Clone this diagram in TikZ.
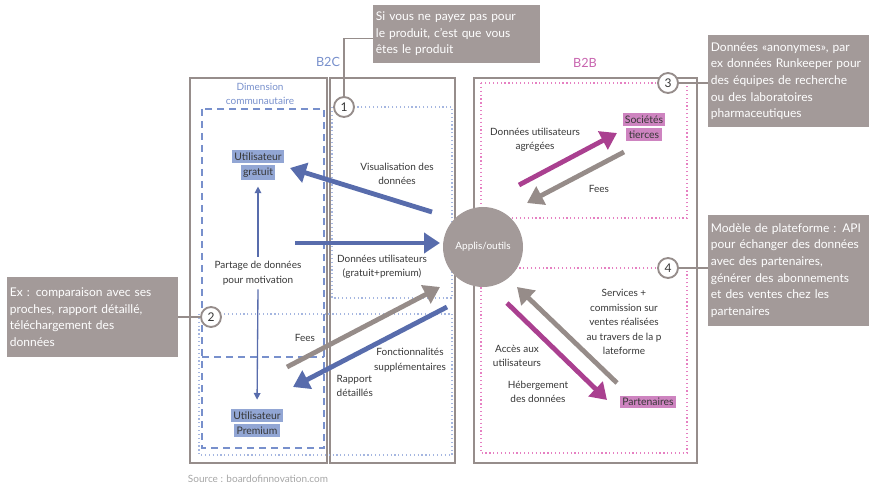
\documentclass[tikz,border=0pt]{standalone}
\usepackage{fontspec}
\setmainfont{Lato}
\usetikzlibrary{arrows.meta}

\definecolor{frameg}{RGB}{150,141,139}
\definecolor{noteg}{RGB}{163,154,153}
\definecolor{flowb}{RGB}{88,108,172}
\definecolor{flowg}{RGB}{150,140,137}
\definecolor{flowp}{RGB}{170,64,144}
\definecolor{userb}{RGB}{146,166,212}
\definecolor{partp}{RGB}{206,132,192}
\definecolor{dimb}{RGB}{120,144,204}
\definecolor{b2bp}{RGB}{200,100,175}
\definecolor{dotb}{RGB}{165,182,224}
\definecolor{dotp}{RGB}{230,128,194}
\definecolor{txt}{RGB}{55,55,55}

% highlighted label lines
\setlength{\fboxsep}{1.8pt}
\newcommand{\hlb}[1]{\colorbox{userb}{#1}}
\newcommand{\hlp}[1]{\colorbox{partp}{#1}}

\begin{document}
\begin{tikzpicture}[x=0.75pt, y=-0.75pt,
    frame/.style={draw=frameg, line width=1.3pt},
    note/.style={fill=noteg, text=white, anchor=north west, align=left,
                 inner xsep=2pt, inner ysep=2pt,
                 font=\fontsize{9}{12.5}\selectfont},
    num/.style={circle, draw=frameg, line width=1.4pt, fill=white,
                minimum size=15pt, inner sep=0pt, text=txt,
                font=\fontsize{9}{10}\selectfont},
    link/.style={draw=frameg, line width=0.8pt},
    lbl/.style={align=center, text=txt, font=\fontsize{7.5}{10.8}\selectfont},
    user/.style={align=center, text=txt, inner sep=0pt,
                 font=\fontsize{7.8}{11.2}\selectfont},
    fat/.style={line width=3.6pt, -{Triangle[length=12pt, width=15pt]}},
    thin/.style={draw=flowb, line width=1pt, -{Triangle[length=5pt, width=5pt]}}
  ]
  \useasboundingbox (0,0) rectangle (869,485);

  % panels
  \draw[frame] (190,78) rectangle (327,463);
  \draw[frame] (330,78) rectangle (455,463);
  \draw[frame] (474,78) rectangle (697,463);

  % inner zones
  \draw[dimb, line width=0.9pt, dash pattern=on 5pt off 4pt]
    (202,109) rectangle (324,448) (202,357) -- (324,357);
  \draw[dotb, dotted, line width=0.9pt] (332,107) rectangle (452,298);
  \draw[dotb, dotted, line width=0.9pt] (199,314) rectangle (452,455);
  \draw[dotp, dotted, line width=0.9pt] (481,83) rectangle (687,218);
  \draw[dotp, dotted, line width=0.9pt] (481,268) rectangle (687,453);

  \node[text=dimb, font=\fontsize{9.5}{11}\selectfont] (b2c) at (328,62) {B2C};
  \node[text=b2bp, font=\fontsize{9.5}{11}\selectfont] (b2b) at (585,63) {B2B};
  \node[text=dimb, align=center, font=\fontsize{7.5}{10.8}\selectfont] (dim)
    at (260,94) {Dimension\\communautaire};

  % central app
  \node[circle, fill=noteg, minimum size=60pt, text=white,
        font=\fontsize{7.5}{9}\selectfont] (apps) at (483,247) {Applis/outils};

  % actors
  \node[user] (gratuit) at (258,165) {\hlb{Utilisateur}\\\hlb{gratuit}};
  \node[user] (premium) at (257,423) {\hlb{Utilisateur}\\\hlb{Premium}};
  \node[user] (tierces) at (644,127) {\hlp{Sociétés}\\\hlp{tierces}};
  \node[user] (partn) at (648,402) {\hlp{Partenaires}};

  % flows
  \coordinate (vis0) at (432,212);  \coordinate (vis1) at (290,168);
  \coordinate (don0) at (295,243);  \coordinate (don1) at (440,243);
  \coordinate (fee0) at (287,367);  \coordinate (fee1) at (440,287);
  \coordinate (fon0) at (447,307);  \coordinate (fon1) at (293,387);
  \coordinate (agr0) at (519,185);  \coordinate (agr1) at (617,133);
  \coordinate (fet0) at (624,152);  \coordinate (fet1) at (527,203);
  \coordinate (acc0) at (507,303);  \coordinate (acc1) at (607,400);
  \coordinate (ser0) at (617,383);  \coordinate (ser1) at (517,287);

  \draw[fat, flowb] (vis0) -- (vis1);
  \draw[fat, flowb] (don0) -- (don1);
  \draw[fat, flowg] (fee0) -- (fee1);
  \draw[fat, flowb] (fon0) -- (fon1);
  \draw[fat, flowp] (agr0) -- (agr1);
  \draw[fat, flowg] (fet0) -- (fet1);
  \draw[fat, flowp] (acc0) -- (acc1);
  \draw[fat, flowg] (ser0) -- (ser1);

  \node[lbl] (partage) at (258,273) {Partage de données\\pour motivation};
  \draw[thin, shorten >=5pt] (partage.north) -- (gratuit.south);
  \draw[thin, shorten >=7pt] (partage.south) -- (premium.north);

  \node[lbl] (l-vis) at (397,174) {Visualisation des\\données};
  \node[lbl] (l-don) at (382,267) {Données utilisateurs\\(gratuit+premium)};
  \node[lbl] (l-fee) at (305,338) {Fees};
  \node[lbl] (l-fon) at (410,360) {Fonctionnalités\\supplémentaires};
  \node[lbl, align=left, anchor=west] (l-rap) at (332,386) {Rapport\\détaillés};
  \node[lbl] (l-agr) at (535,140) {Données utilisateurs\\agrégées};
  \node[lbl] (l-fet) at (599,189) {Fees};
  \node[lbl] (l-ser) at (624,322)
    {Services +\\commission sur\\ventes réalisées\\au travers de la p\\lateforme};
  \node[lbl] (l-acc) at (517,356) {Accès aux\\utilisateurs};
  \node[lbl] (l-heb) at (538,392) {Hébergement\\des données};

  % callouts
  \node[note, text width=121pt, minimum height=43pt] (note1) at (373,5)
    {Si vous ne payez pas pour\\le produit, c’est que vous\\êtes le produit};
  \node[note, text width=124pt, minimum height=60pt] (note2) at (7,277)
    {Ex : comparaison avec ses\\proches, rapport détaillé,\\téléchargement des\\données};
  \node[note, text width=117pt, minimum height=69pt] (note3) at (708,35)
    {Données «anonymes», par\\ex données Runkeeper pour\\des équipes de recherche\\ou des laboratoires\\pharmaceutiques};
  \node[note, text width=117pt, minimum height=83pt] (note4) at (708,215)
    {Modèle de plateforme : API\\pour échanger des données\\avec des partenaires,\\générer des abonnements\\et des ventes chez les\\partenaires};

  \node[num] (n1) at (344,107) {1};
  \node[num] (n2) at (211,317) {2};
  \node[num] (n3) at (668,83) {3};
  \node[num] (n4) at (668,268) {4};

  \draw[link] (n1.north) |- ([yshift=-3.5pt]note1.west);
  \draw[link] (n2) -- (n2 -| note2.east);
  \draw[link] (n3) -- (n3 -| note3.west);
  \draw[link] (n4) -- (n4 -| note4.west);

  \node[text=gray!70, font=\fontsize{7.5}{9}\selectfont] (src) at (258,479)
    {Source : boardofinnovation.com};
\end{tikzpicture}
\end{document}
